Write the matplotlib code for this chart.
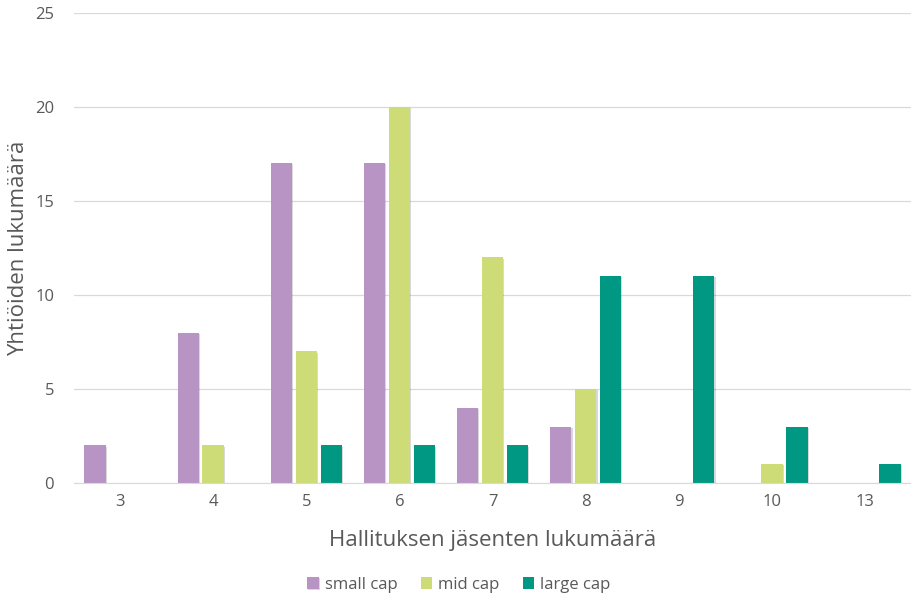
import numpy as np
import matplotlib.pyplot as plt
import matplotlib.patheffects as pe

plt.rcParams['font.family'] = ['Open Sans', 'DejaVu Sans']

jasenet = ['3', '4', '5', '6', '7', '8', '9', '10', '13']
small_cap = [2, 8, 17, 17, 4, 3, 0, 0, 0]
mid_cap = [0, 2, 7, 20, 12, 5, 0, 1, 0]
large_cap = [0, 0, 2, 2, 2, 11, 11, 3, 1]

sarjat = [
    ('small cap', small_cap, '#B794C4'),
    ('mid cap', mid_cap, '#CDDC77'),
    ('large cap', large_cap, '#009883'),
]

tekstin_vari = '#595959'

fig = plt.figure(figsize=(9.12, 5.98), dpi=100)
ax = fig.add_axes([0.0806, 0.1923, 0.919, 0.786])

x = np.arange(len(jasenet))
leveys = 0.23
vali = 0.268
# kevyt varjo palkkien reunoille
varjo = [pe.SimplePatchShadow(offset=(0.8, -0.8), shadow_rgbFace='#000000', alpha=0.15), pe.Normal()]

for i, (nimi, arvot, vari) in enumerate(sarjat):
    palkit = ax.bar(x + (i - 1) * vali, arvot, leveys, color=vari, label=nimi, zorder=3)
    for p, arvo in zip(palkit, arvot):
        if arvo > 0:
            p.set_path_effects(varjo)

ax.set_xlim(-0.5, len(jasenet) - 0.5)
ax.set_ylim(0, 25)
ax.set_yticks(range(0, 26, 5))
ax.set_xticks(x)
ax.set_xticklabels(jasenet)
ax.tick_params(axis='both', length=0, labelsize=12, colors=tekstin_vari)
ax.tick_params(axis='y', pad=14)
ax.tick_params(axis='x', pad=8)

ax.grid(axis='y', color='#D9D9D9', linewidth=0.9, zorder=0)
for s in ['top', 'right', 'left']:
    ax.spines[s].set_visible(False)
ax.spines['bottom'].set_color('#D9D9D9')
ax.spines['bottom'].set_zorder(4)

ax.set_xlabel('Hallituksen jäsenten lukumäärä', fontsize=16, color=tekstin_vari, labelpad=14)
ax.set_ylabel('Yhtiöiden lukumäärä', fontsize=16, color=tekstin_vari, labelpad=4)

# selite kuvan keskelle alareunaan
kahvat, nimet = ax.get_legend_handles_labels()
fig.legend(kahvat, nimet, loc='center', bbox_to_anchor=(0.503, 0.022), ncol=3, frameon=False,
           fontsize=12, labelcolor=tekstin_vari, handlelength=0.7, handleheight=0.7,
           handletextpad=0.35, columnspacing=1.4)

fig.savefig('out.png', dpi=100)
